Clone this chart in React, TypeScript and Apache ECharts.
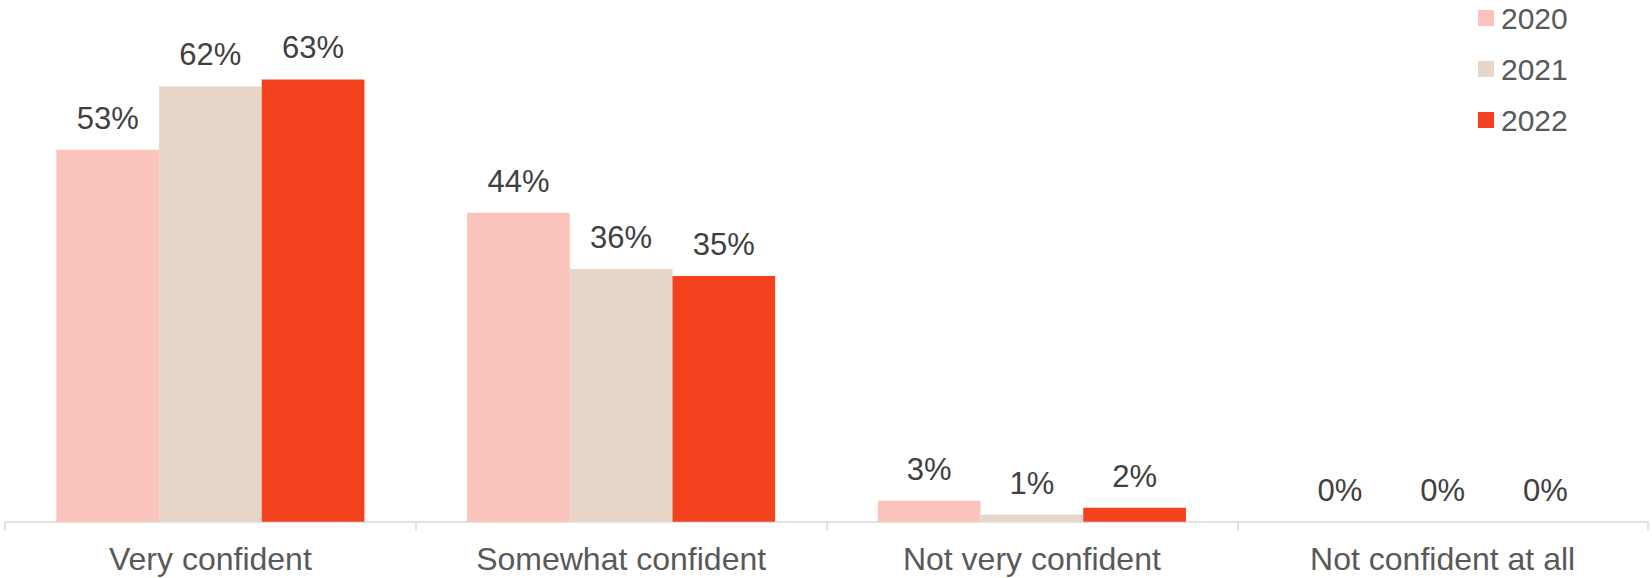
import React, { useEffect, useRef } from "react";
import * as echarts from "echarts";

const categories = ["Very confident", "Somewhat confident", "Not very confident", "Not confident at all"];
const seriesNames = ["2020", "2021", "2022"];
const values2020 = [53, 44, 3, 0];
const values2021 = [62, 36, 1, 0];
const values2022 = [63, 35, 2, 0];
const colors = ["#FAC4BC", "#E8D6C9", "#F4421E"];

const FONT = "'Liberation Sans', Arial, sans-serif";

export default function App() {
  const ref = useRef<HTMLDivElement>(null);
  useEffect(() => {
    document.body.style.margin = "0";
    const chart = echarts.init(ref.current!, null, { renderer: "svg" });
    const data = [values2020, values2021, values2022];
    chart.setOption({
      animation: false,
      textStyle: { fontFamily: FONT },
      legend: {
        orient: "vertical",
        left: 1473,
        top: -2,
        itemWidth: 16,
        itemHeight: 16,
        itemGap: 21,
        icon: "rect",
        data: seriesNames,
        textStyle: { fontSize: 30, color: "#595959", fontFamily: FONT, padding: [0, 0, 0, 2] },
      },
      grid: { left: 5, right: 4, top: 30.3, bottom: 56.3, containLabel: false },
      xAxis: {
        type: "category",
        data: categories,
        boundaryGap: true,
        axisLine: { show: true, lineStyle: { color: "#D9D9D9", width: 1.5 } },
        axisTick: { show: true, length: 9, lineStyle: { color: "#D9D9D9", width: 1.5 } },
        axisLabel: { fontSize: 32, color: "#595959", margin: 21, fontFamily: FONT, interval: 0 },
      },
      yAxis: {
        type: "value",
        min: 0,
        max: 70,
        show: false,
        splitLine: { show: false },
      },
      series: seriesNames.map((name, i) => ({
        name,
        type: "bar",
        data: data[i],
        barGap: "0%",
        barCategoryGap: "25%",
        itemStyle: { color: colors[i] },
        label: {
          show: true,
          position: "top",
          distance: 16,
          formatter: "{c}%",
          fontSize: 31,
          color: "#404040",
          fontFamily: FONT,
        },
      })),
    });
    return () => chart.dispose();
  }, []);
  return <div ref={ref} style={{ width: 1652, height: 578 }} />;
}
